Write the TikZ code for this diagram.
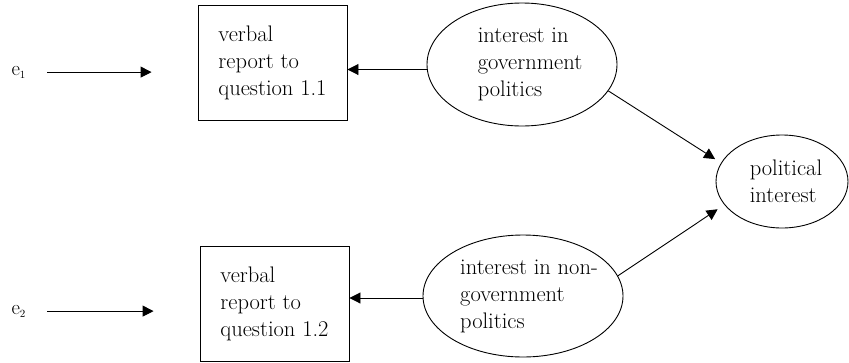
\documentclass[tikz,border=0pt]{standalone}
\usetikzlibrary{shapes.geometric,arrows.meta}
\begin{document}
\begin{tikzpicture}[x=1pt,y=-1pt,
  txt/.style={font=\fontsize{22.5}{27}\selectfont},
  obs/.style={draw,line width=0.9pt,rectangle,minimum width=149pt,minimum height=115pt,align=left,txt},
  lat/.style={draw,line width=0.9pt,ellipse,inner sep=0pt},
  arr/.style={line width=0.9pt,-{Triangle[length=11pt,width=11pt]}}]
\useasboundingbox (0,0) rectangle (849,362);
% error terms
\node[txt,anchor=base west] (e1) at (8,75) {$\mathrm{e}_{\scriptscriptstyle 1}$};
\node[txt,anchor=base west] (e2) at (8,314) {$\mathrm{e}_{\scriptscriptstyle 2}$};
% verbal reports
\node[obs] (rep1) at (272.5,62.5) {verbal\\report to\\question 1.1};
\node[obs] (rep2) at (274.5,304) {verbal\\report to\\question 1.2};
% latent variables
\node[lat,minimum width=190pt,minimum height=123pt,
  label={[txt,align=left,xshift=8pt]center:interest in\\government\\politics}] (gov) at (522,64.5) {};
\node[lat,minimum width=200pt,minimum height=122pt,
  label={[txt,align=left,xshift=6pt]center:interest in non-\\government\\politics}] (nongov) at (523,296) {};
\node[lat,minimum width=132pt,minimum height=93pt,
  label={[txt,align=left,xshift=4pt]center:political\\interest}] (pol) at (782,181.5) {};
% arrows
\draw[arr,shorten <=18pt,shorten >=46pt] (e1.east) -- (e1.east -| rep1.west);
\draw[arr,shorten <=18pt,shorten >=46pt] (e2.east) -- (e2.east -| rep2.west);
\draw[arr] ([yshift=-5pt]gov.west) -- ([yshift=-5pt]gov.west -| rep1.east);
\draw[arr] ([yshift=-2pt]nongov.west) -- ([yshift=-2pt]nongov.west -| rep2.east);
\draw[arr,shorten >=7pt] (gov.-17) -- (pol.163);
\draw[arr,shorten >=8pt] (nongov.12) -- (pol.202);
\end{tikzpicture}
\end{document}
